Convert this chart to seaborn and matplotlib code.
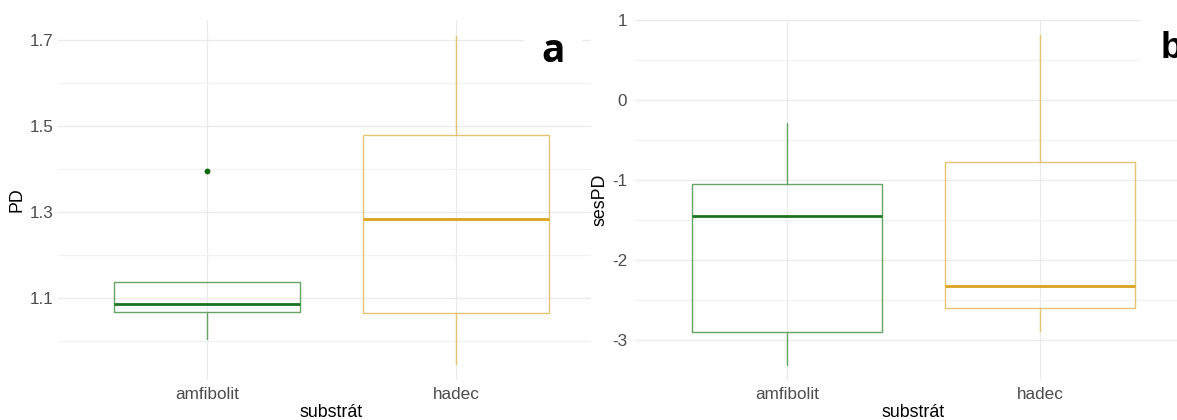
import matplotlib
matplotlib.use("Agg")
import matplotlib.pyplot as plt
from matplotlib.patches import Rectangle
import pandas as pd
import seaborn as sns

substrates = ["amfibolit", "hadec"]

# PD per substrate: box summaries and outliers
pd_whislo = [1.005, 0.947]
pd_q1 = [1.067, 1.065]
pd_median = [1.086, 1.283]
pd_q3 = [1.137, 1.480]
pd_whishi = [1.137, 1.709]
pd_outliers = [[1.396], []]

# sesPD per substrate
ses_whislo = [-3.31, -2.89]
ses_q1 = [-2.90, -2.60]
ses_median = [-1.45, -2.33]
ses_q3 = [-1.05, -0.77]
ses_whishi = [-0.29, 0.81]
ses_outliers = [[], []]

pd_major = [1.1, 1.3, 1.5, 1.7]
pd_minor = [1.0, 1.2, 1.4, 1.6]
ses_major = [-3, -2, -1, 0, 1]
ses_minor = [-3.5, -2.5, -1.5, -0.5, 0.5]

edge_colors = {"amfibolit": "#64a464", "hadec": "#e6c474"}
median_colors = {"amfibolit": "#1b731e", "hadec": "#d9a21f"}
point_colors = {"amfibolit": "#0b6b0b", "hadec": "#c8941a"}

sns.set_theme(style="white")
plt.rcParams["font.family"] = ["Liberation Sans", "DejaVu Sans"]
plt.rcParams["text.color"] = "black"

W, H = 1177, 420
fig = plt.figure(figsize=(W / 100, H / 100), dpi=100)
fig.patch.set_facecolor("white")


def px_axes(left, right, top, bottom):
    return [left / W, (H - bottom) / H, (right - left) / W, (bottom - top) / H]


def draw_panel(ax, whislo, q1, med, q3, whishi, outliers, major, minor,
               ylim, ylabel, tag, tag_xy, tag_font, mask, ylab_x, ypad):
    # outlier points through seaborn on the categorical axis
    rows = [(s, v) for s, vals in zip(substrates, outliers) for v in vals]
    if rows:
        df = pd.DataFrame(rows, columns=["substrát", "value"])
        sns.stripplot(data=df, x="substrát", y="value", hue="substrát",
                      order=substrates, hue_order=substrates,
                      palette=point_colors, jitter=False, size=4.2,
                      linewidth=0, legend=False, ax=ax, zorder=4)
    for i, s in enumerate(substrates):
        stats = [dict(med=med[i], q1=q1[i], q3=q3[i], whislo=whislo[i],
                      whishi=whishi[i], fliers=[])]
        ax.bxp(stats, positions=[i], widths=0.75, showcaps=False,
               showfliers=False, patch_artist=False,
               boxprops=dict(color=edge_colors[s], linewidth=1.0),
               whiskerprops=dict(color=edge_colors[s], linewidth=1.0),
               medianprops=dict(color=median_colors[s], linewidth=2.0,
                                solid_capstyle="butt"),
               zorder=3)
    ax.set_xlim(-0.6, 1.6)
    ax.set_ylim(*ylim)
    ax.set_xticks(range(len(substrates)))
    ax.set_xticklabels(substrates)
    ax.set_yticks(major)
    ax.set_yticklabels([f"{v:g}" for v in major])
    ax.set_yticks(minor, minor=True)
    ax.set_axisbelow(True)
    ax.grid(False)
    ax.grid(which="major", axis="both", color="#ebebeb", linewidth=1.0)
    ax.grid(which="minor", axis="y", color="#f2f2f2", linewidth=0.9)
    for sp in ax.spines.values():
        sp.set_visible(False)
    ax.tick_params(axis="both", which="both", length=0, labelsize=12.3,
                   labelcolor="#4d4d4d")
    ax.tick_params(axis="x", pad=5)
    ax.tick_params(axis="y", pad=ypad)
    ax.set_xlabel("substrát", fontsize=12.8, color="black")
    ax.set_ylabel(ylabel, fontsize=12.8, color="black")
    ax.xaxis.set_label_coords(0.5, -0.066)
    ax.yaxis.set_label_coords(ylab_x, 0.5)
    ax.set_facecolor("white")
    mx0, mx1, my0, my1 = mask
    ax.add_patch(Rectangle((mx0, my0), mx1 - mx0, my1 - my0,
                           transform=ax.transAxes, facecolor="white",
                           edgecolor="none", zorder=1, clip_on=False))
    family, size = tag_font
    ax.text(tag_xy[0], tag_xy[1], tag, transform=ax.transAxes,
            ha="center" if tag == "a" else "left", va="baseline",
            fontsize=size, fontweight="bold", family=family, color="black",
            zorder=5)


ax_a = fig.add_axes(px_axes(58, 605, 20, 380))
ax_a.set_zorder(0)
draw_panel(ax_a, pd_whislo, pd_q1, pd_median, pd_q3, pd_whishi, pd_outliers,
           pd_major, pd_minor, (0.909, 1.747), "PD", "a", (0.905, 0.883),
           ("Open Sans", 28), (0.852, 0.958, 0.861, 1.03), -0.060, 3.5)

# the second panel sits on top of the right edge of the first
fig.add_artist(Rectangle((591 / W, 0), 1 - 591 / W, 1,
                         transform=fig.transFigure, facecolor="white",
                         edgecolor="none", zorder=0.5))

ax_b = fig.add_axes(px_axes(635, 1192, 20, 380))
ax_b.set_zorder(1)
draw_panel(ax_b, ses_whislo, ses_q1, ses_median, ses_q3, ses_whishi,
           ses_outliers, ses_major, ses_minor, (-3.5, 1.0), "sesPD", "b",
           (0.944, 0.894), ("Liberation Sans", 26), (0.907, 1.2, 0.833, 1.05),
           -0.048, 5.5)

fig.savefig("out.png", dpi=100, facecolor="white")
